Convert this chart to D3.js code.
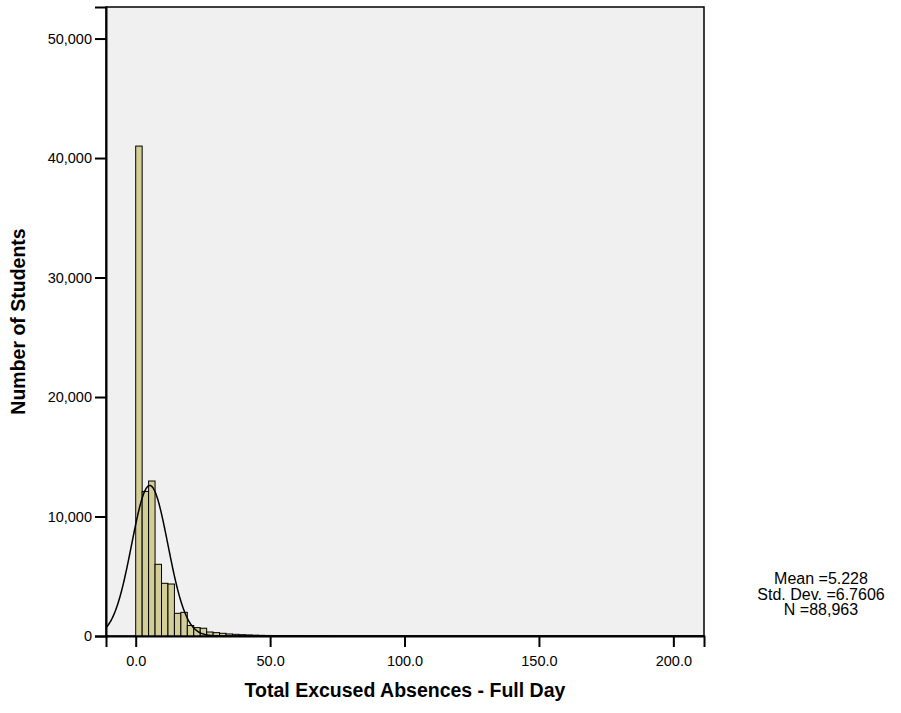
<!DOCTYPE html>
<html>
<head>
<meta charset="utf-8">
<script src="https://cdn.jsdelivr.net/npm/d3@7"></script>
<style>
  body { margin: 0; background: #ffffff; }
  text { font-family: "Liberation Sans", Arial, sans-serif; }
</style>
</head>
<body>
<script>
const width = 901, height = 713;

// histogram data
const binStart = 0;
const binWidth = 2.4;
const binCounts = [41000, 12100, 12970, 6000, 4410, 4350, 1900, 1980, 880, 700,
                   650, 335, 280, 225, 170, 140, 110, 90, 70, 55,
                   45, 35, 28, 22, 18, 14, 10, 8, 6, 5];
const xTicks = [0, 50, 100, 150, 200];
const yTicks = [0, 10000, 20000, 30000, 40000, 50000];
const statLabels = ["Mean =5.228", "Std. Dev. =6.7606", "N =88,963"];
const mean = 5.228, stdDev = 6.7606, total = 88963;

const xLabel = "Total Excused Absences - Full Day";
const yLabel = "Number of Students";

const plot = { left: 106, right: 704, top: 7, bottom: 636 };
const barColor = "#d3ce97";
const panelColor = "#f0f0f0";

const x = d3.scaleLinear().domain([-11.05, 211.4]).range([plot.left, plot.right]);
const y = d3.scaleLinear().domain([0, 52640]).range([plot.bottom, plot.top]);

const svg = d3.select("body")
  .append("svg")
  .attr("width", width)
  .attr("height", height);

function main() {
  drawPanel();
  drawBars();
  drawCurve();
  drawAxes();
  drawLabels();
}

function drawPanel() {
  svg.append("rect")
    .attr("x", plot.left).attr("y", plot.top)
    .attr("width", plot.right - plot.left)
    .attr("height", plot.bottom - plot.top)
    .attr("fill", panelColor)
    .attr("stroke", "black")
    .attr("stroke-width", 1.5);

  svg.append("clipPath").attr("id", "clip")
    .append("rect")
    .attr("x", plot.left).attr("y", plot.top)
    .attr("width", plot.right - plot.left)
    .attr("height", plot.bottom - plot.top);
}

function drawBars() {
  svg.append("g")
    .selectAll("rect")
    .data(binCounts)
    .enter()
    .append("rect")
    .attr("x", (d, i) => x(binStart + i * binWidth))
    .attr("width", x(binWidth) - x(0))
    .attr("y", d => y(d))
    .attr("height", d => y(0) - y(d))
    .attr("fill", barColor)
    .attr("stroke", "black")
    .attr("stroke-width", 1);
}

function drawCurve() {
  const scale = total * binWidth / (stdDev * Math.sqrt(2 * Math.PI));
  const xs = d3.range(x.domain()[0], x.domain()[1], 0.25);
  const pts = xs.map(v => [v, scale * Math.exp(-0.5 * ((v - mean) / stdDev) ** 2)]);
  const line = d3.line().x(d => x(d[0])).y(d => y(d[1])).curve(d3.curveBasis);
  svg.append("path")
    .datum(pts)
    .attr("d", line)
    .attr("fill", "none")
    .attr("stroke", "black")
    .attr("stroke-width", 1.5)
    .attr("clip-path", "url(#clip)");
}

function drawAxes() {
  const yAxis = svg.append("g")
    .attr("transform", `translate(${plot.left},0)`)
    .call(d3.axisLeft(y).tickValues(yTicks).tickFormat(d3.format(",")).tickSize(11).tickPadding(3));
  const xAxis = svg.append("g")
    .attr("transform", `translate(0,${plot.bottom})`)
    .call(d3.axisBottom(x).tickValues(xTicks).tickFormat(d3.format(".1f")).tickSize(11).tickPadding(9));

  for (let ax of [yAxis, xAxis]) {
    ax.select(".domain").attr("stroke-width", 2);
    ax.selectAll(".tick line").attr("stroke-width", 2);
    ax.selectAll("text").attr("font-size", 14.5).attr("fill", "black")
      .style("font-family", "'Liberation Sans', Arial, sans-serif");
  }
}

function drawLabels() {
  svg.append("text")
    .attr("x", (plot.left + plot.right) / 2)
    .attr("y", 697)
    .attr("text-anchor", "middle")
    .attr("font-size", 19.5)
    .attr("font-weight", "bold")
    .text(xLabel);

  svg.append("text")
    .attr("transform", `translate(25,${(plot.top + plot.bottom) / 2}) rotate(-90)`)
    .attr("text-anchor", "middle")
    .attr("font-size", 19.5)
    .attr("font-weight", "bold")
    .text(yLabel);

  svg.append("g")
    .selectAll("text")
    .data(statLabels)
    .enter()
    .append("text")
    .attr("x", 821)
    .attr("y", (d, i) => 584 + i * 15.5)
    .attr("text-anchor", "middle")
    .attr("font-size", 16)
    .text(d => d);
}

main()
</script>
</body>
</html>
